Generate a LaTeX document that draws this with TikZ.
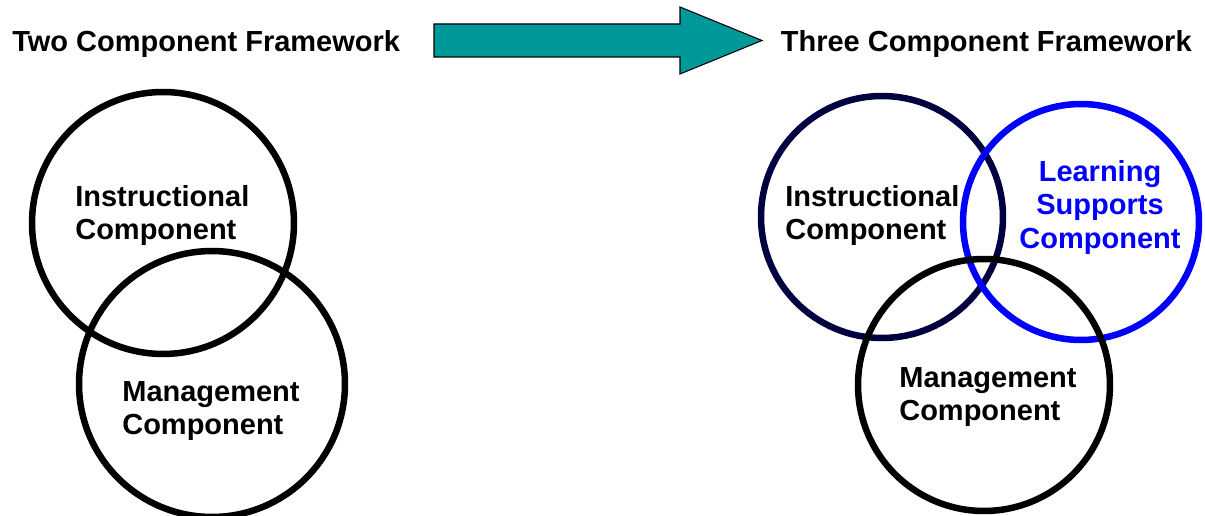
\documentclass[tikz,border=0pt]{standalone}
\usepackage{fontspec}
\setmainfont{Liberation Sans}
\usepackage{tikz}
\usetikzlibrary{positioning}
\definecolor{navy}{RGB}{0,0,64}
\definecolor{supportblue}{RGB}{0,0,255}
\definecolor{shiftteal}{RGB}{0,153,153}

\begin{document}
\begin{tikzpicture}[x=0.02cm,y=-0.02cm,
    ring/.style={circle,draw,line width=3.7pt,inner sep=0pt},
    label/.style={inner sep=0pt,align=left,font=\fontsize{16.5}{19}\selectfont\bfseries},
    title/.style={inner sep=0pt,font=\fontsize{16.5}{19}\selectfont\bfseries}]
    \useasboundingbox (0,0) rectangle (1205,516);

    % Headings and the shift arrow
    \node[title,anchor=base west] at (12,52) (twotitle) {Two Component Framework};
    \node[title,anchor=base east] at (1192,52) (threetitle) {Three Component Framework};
    \draw[fill=shiftteal,line width=0.6pt,line join=miter]
        (434,24) -- (680,24) -- (680,7) -- (762,40.5) -- (680,74) -- (680,57) -- (434,57) -- cycle;

    % Two component framework
    \node[ring,minimum size=5.24cm] at (163,223) (instr) {};
    \node[ring,minimum size=5.32cm] at (212,384) (manage) {};
    \node[label,anchor=north west] at (75,185) (instrtext) {Instructional\\Component};
    \node[label,anchor=north west] at (122,381) (managetext) {Management\\Component};

    % Three component framework
    \node[ring,draw=navy,minimum size=4.84cm] at (882,217) (instr2) {};
    \node[ring,draw=supportblue,minimum size=4.72cm] at (1081,222) (support2) {};
    \node[ring,minimum size=5.04cm] at (984,385) (manage2) {};
    \node[label,anchor=north west] at (785,185) (instrtext2) {Instructional\\Component};
    \node[label,align=center,anchor=north,text=supportblue] at (1100,160) (supporttext2) {Learning\\Supports\\Component};
    \node[label,anchor=north west] at (899,367) (managetext2) {Management\\Component};
\end{tikzpicture}
\end{document}
